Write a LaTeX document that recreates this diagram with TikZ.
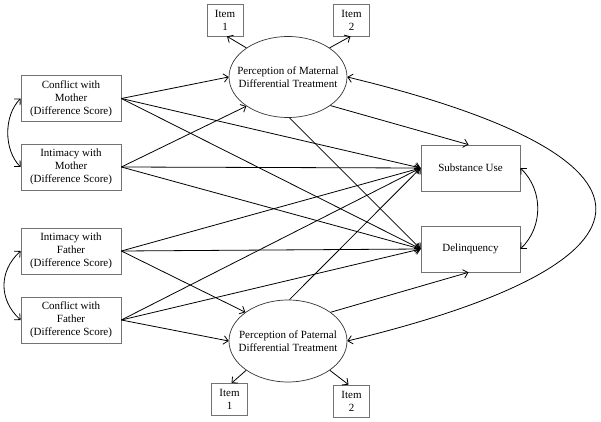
\documentclass[tikz,border=0pt]{standalone}
\usepackage{fontspec}
\setmainfont{Liberation Serif}
\usetikzlibrary{arrows.meta,shapes.geometric}
\begin{document}
\begin{tikzpicture}[x=1pt,y=-1pt,
  txt/.style={font=\fontsize{11}{13}\selectfont, align=center, inner sep=0pt},
  box/.style={txt, draw=black!55, line width=0.7pt, rectangle, minimum width=100pt, minimum height=46pt},
  itembox/.style={txt, draw=black!55, line width=0.7pt, rectangle, minimum width=36pt, minimum height=32pt},
  lat/.style={txt, draw=black!80, line width=0.7pt, ellipse, inner xsep=-12pt, inner ysep=0pt, minimum width=118pt, minimum height=81pt},
  tip/.tip={Straight Barb[length=4.5pt,width=8.5pt]},
  arr/.style={-tip, line width=0.8pt},
  dbl/.style={tip-tip, line width=0.8pt}]
\useasboundingbox (0,0) rectangle (601,422);

% observed predictors
\node[box] (cm) at (71,98.5) {Conflict with\\Mother\\(Difference Score)};
\node[box] (im) at (71,167) {Intimacy with\\Mother\\(Difference Score)};
\node[box] (if) at (71,251) {Intimacy with\\Father\\(Difference Score)};
\node[box] (cf) at (71,320) {Conflict with\\Father\\(Difference Score)};

% outcomes
\node[box, minimum width=99pt] (su) at (470.5,168) {Substance Use};
\node[box, minimum width=99pt] (de) at (470.5,249) {Delinquency};

% latent variables
\node[lat] (mat) at (288,77) {Perception of Maternal\\Differential Treatment};
\node[lat, minimum height=82pt] (pat) at (288,341) {Perception of Paternal\\Differential Treatment};

% indicators
\node[itembox] (i1t) at (225,20) {Item\\1};
\node[itembox] (i2t) at (351.5,20) {Item\\2};
\node[itembox] (i1b) at (229.5,399.5) {Item\\1};
\node[itembox] (i2b) at (351.5,401) {Item\\2};

% predictor paths
\draw[arr] (cm.east) -- (mat.west);
\draw[arr] (cm.east) -- (su.west);
\draw[arr] (cm.east) -- (de.west);
\draw[arr] (im.east) -- (mat.215);
\draw[arr] (im.east) -- (su.west);
\draw[arr] (im.east) -- (de.west);
\draw[arr] (if.east) -- (su.west);
\draw[arr] (if.east) -- (de.west);
\draw[arr] (if.east) -- (pat.146);
\draw[arr] (cf.east) -- (su.west);
\draw[arr] (cf.east) -- (de.west);
\draw[arr] (cf.east) -- (pat.west);

% latent paths
\draw[arr] (mat.-34) -- ([xshift=-2pt]su.north);
\draw[arr] (mat.-88) -- (de.west);
\draw[arr] (pat.88) -- (su.west);
\draw[arr] (pat.34) -- ([xshift=-2pt]de.south);

% indicators
\draw[arr] (mat.145) -- ([xshift=2pt]i1t.south);
\draw[arr] (mat.35) -- ([xshift=-1pt]i2t.south);
\draw[arr] (pat.215) -- ([xshift=2pt]i1b.north);
\draw[arr] (pat.-35) -- ([xshift=-3pt]i2b.north);

% covariances
\draw[dbl] (cm.west) .. controls +(-17,17) and +(-17,-17) .. (im.west);
\draw[dbl] (if.west) .. controls +(-22,20) and +(-22,-20) .. (cf.west);
\draw[dbl] (su.east) .. controls +(23,22) and +(23,-22) .. (de.east);
\draw[dbl] (mat.east) .. controls +(331,80) and +(331,-80) .. (pat.east);
\end{tikzpicture}
\end{document}
